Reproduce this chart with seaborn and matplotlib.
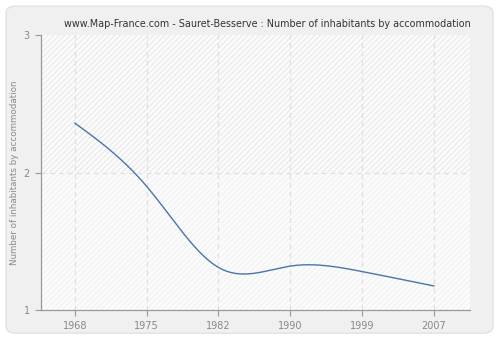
import numpy as np
import pandas as pd
import matplotlib
matplotlib.use("Agg")
import matplotlib.pyplot as plt
from matplotlib.patches import Rectangle, FancyBboxPatch
import seaborn as sns

years = ["1968", "1975", "1982", "1990", "1999", "2007"]
values = [2.36, 1.90, 1.31, 1.32, 1.28, 1.175]
y_ticks = [1, 2, 3]
title = "www.Map-France.com - Sauret-Besserve : Number of inhabitants by accommodation"
y_label = "Number of inhabitants by accommodation"


def natural_spline(x, y, n=300):
    x = np.asarray(x, float)
    y = np.asarray(y, float)
    k = len(x)
    h = np.diff(x)
    A = np.zeros((k, k))
    b = np.zeros(k)
    A[0, 0] = A[-1, -1] = 1
    for i in range(1, k - 1):
        A[i, i - 1] = h[i - 1]
        A[i, i] = 2 * (h[i - 1] + h[i])
        A[i, i + 1] = h[i]
        b[i] = 6 * ((y[i + 1] - y[i]) / h[i] - (y[i] - y[i - 1]) / h[i - 1])
    M = np.linalg.solve(A, b)
    xs = np.linspace(x[0], x[-1], n)
    ys = np.empty_like(xs)
    for j, t in enumerate(xs):
        i = min(np.searchsorted(x, t, side="right") - 1, k - 2)
        dx0 = x[i + 1] - t
        dx1 = t - x[i]
        hi = h[i]
        ys[j] = (M[i] * dx0 ** 3 / (6 * hi) + M[i + 1] * dx1 ** 3 / (6 * hi)
                 + (y[i] / hi - M[i] * hi / 6) * dx0
                 + (y[i + 1] / hi - M[i + 1] * hi / 6) * dx1)
    return xs, ys


sns.set_theme(style="white")
plt.rcParams["font.family"] = ["DejaVu Sans"]
plt.rcParams["hatch.linewidth"] = 0.6

fig = plt.figure(figsize=(5, 3.4), dpi=100)
fig.patch.set_facecolor("white")
bg = FancyBboxPatch((0.012, 0.02), 0.974, 0.962, boxstyle="round,pad=0,rounding_size=0.02",
                    transform=fig.transFigure, facecolor="#f0f0f0", edgecolor="#e2e2e2",
                    linewidth=1.0, zorder=-10)
fig.patches.append(bg)

ax = fig.add_axes([0.082, 0.088, 0.858, 0.809])
ax.set_zorder(5)
ax.set_facecolor("#fbfbfb")

pos = np.arange(len(years))
xs, ys = natural_spline(pos, values)
df = pd.DataFrame({"x": xs, "y": ys})

ax.set_xlim(-0.47, 5.5)
ax.set_ylim(1, 3)

# hatched background bands
ax.add_patch(Rectangle((-0.47, 2), 5.97, 1, facecolor="#fbfbfb", edgecolor="#e4e4e4",
                       hatch="//////", linewidth=0, zorder=0))
ax.add_patch(Rectangle((-0.47, 1), 5.97, 1, facecolor="#fbfbfb", edgecolor="#efefef",
                       hatch="//////", linewidth=0, zorder=0))

for p in pos:
    ax.axvline(p, color="#e0e0e0", linestyle=(0, (4, 3)), linewidth=0.9, zorder=1)
ax.axhline(2, color="#e0e0e0", linestyle=(0, (4, 3)), linewidth=0.9, zorder=1)

sns.lineplot(data=df, x="x", y="y", ax=ax, color="#4a74aa", linewidth=1.0, zorder=3)

ax.set_xticks(pos)
ax.set_xticklabels(years)
ax.set_yticks(y_ticks)
ax.set_yticklabels([str(t) for t in y_ticks])
ax.set_xlabel("")
ax.set_ylabel(y_label, color="#8a8a8a", fontsize=6.3, labelpad=3)
ax.tick_params(axis="both", colors="#999999", labelcolor="#888888", labelsize=7.0,
               length=4, width=0.8, direction="out", bottom=True, left=True, pad=4)
for s in ["top", "right"]:
    ax.spines[s].set_visible(False)
for s in ["left", "bottom"]:
    ax.spines[s].set_color("#999999")
    ax.spines[s].set_linewidth(0.9)

fig.text(0.535, 0.93, title, ha="center", va="center", fontsize=6.9, color="#333333")

fig.savefig("out.png", dpi=100, facecolor=fig.get_facecolor())
